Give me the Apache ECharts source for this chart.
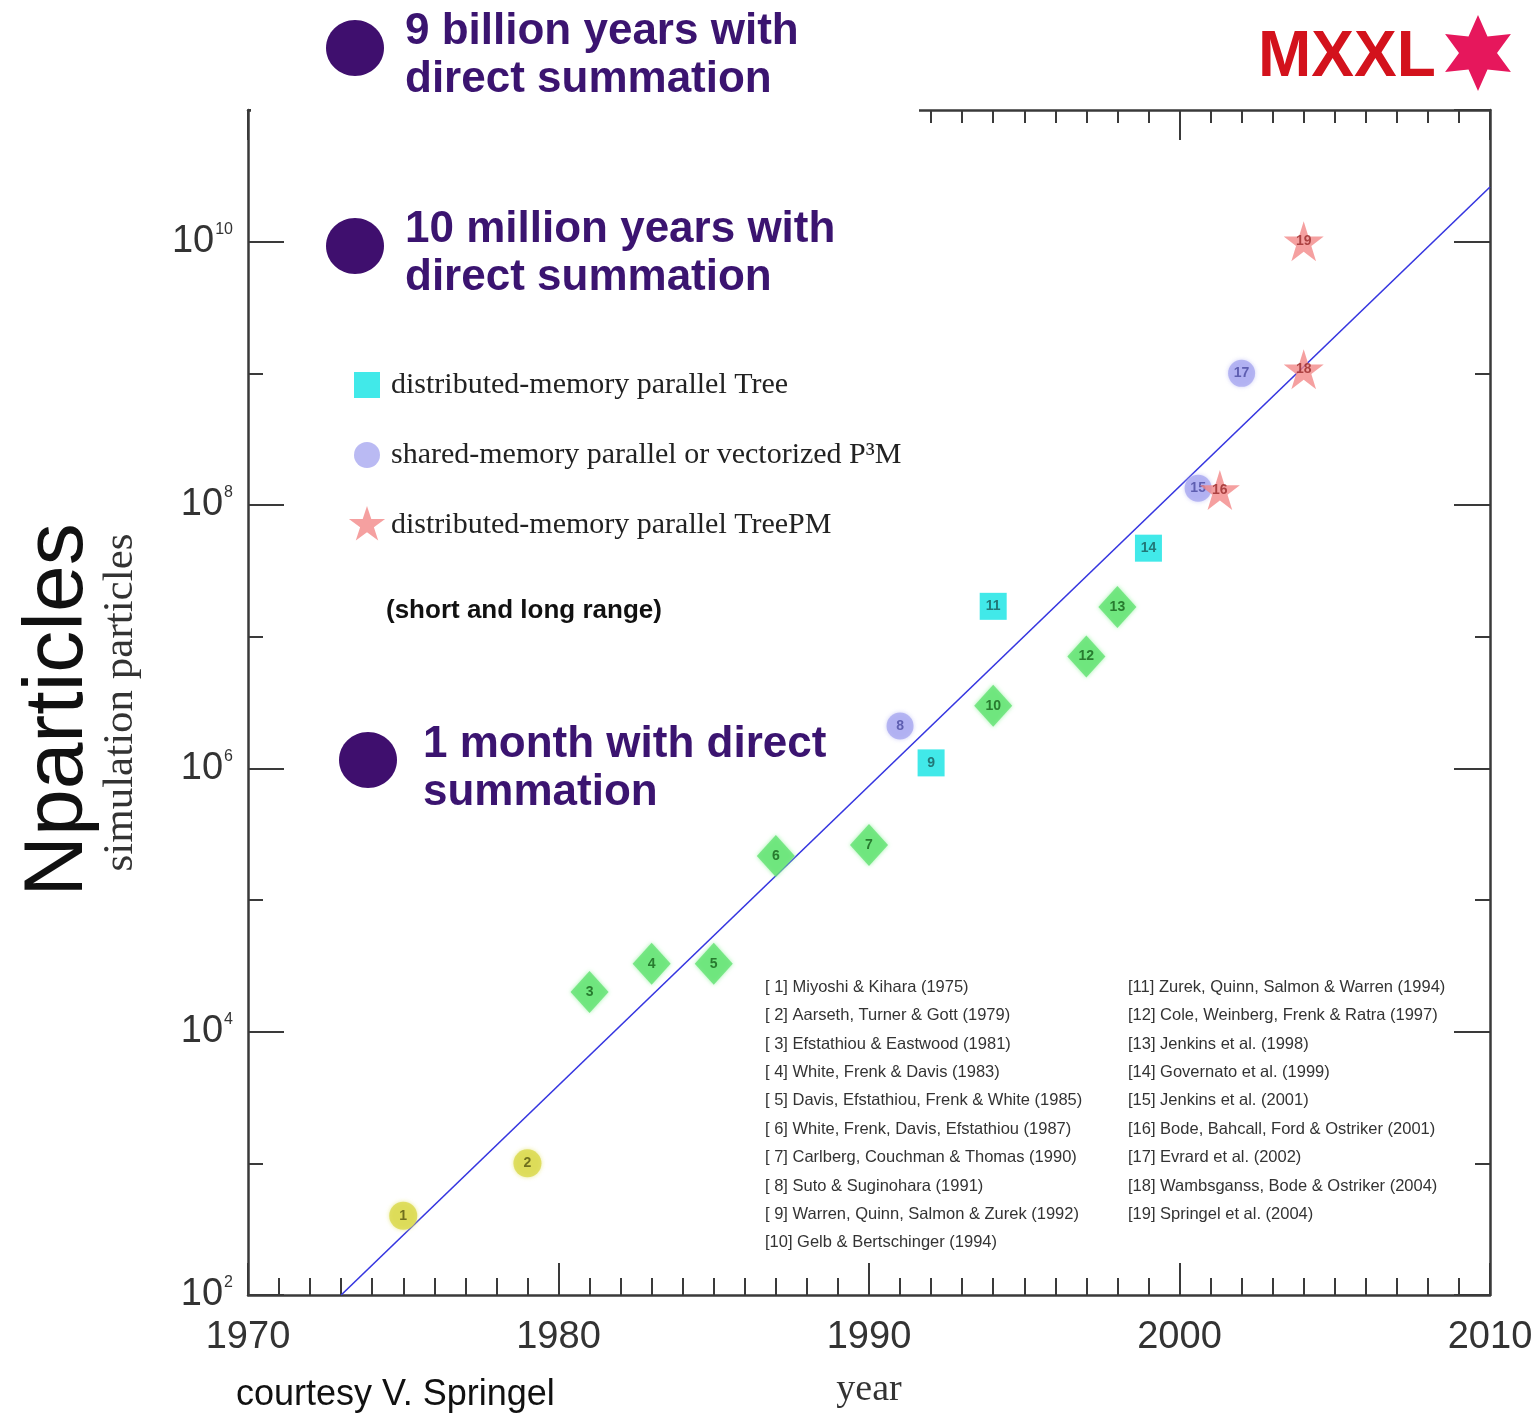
<!DOCTYPE html>
<html>
<head>
<meta charset="utf-8">
<script src="https://cdn.jsdelivr.net/npm/echarts@6/dist/echarts.min.js"></script>
<style>
html,body{margin:0;padding:0;background:#fff;}
#chart{width:1538px;height:1414px;}
</style>
</head>
<body>
<div id="chart"></div>
<script>
// ---- data ----
const earlyYears = [1975, 1979];
const earlyCounts = [400, 1000];
const earlyIds = ['1', '2'];

const treeYears = [1981, 1983, 1985, 1987, 1990, 1994, 1997, 1998];
const treeCounts = [20000, 32768, 32768, 216000, 262144, 2985984, 7077888, 16777216];
const treeIds = ['3', '4', '5', '6', '7', '10', '12', '13'];

const distTreeYears = [1992, 1994, 1999];
const distTreeCounts = [1100000, 17000000, 47000000];
const distTreeIds = ['9', '11', '14'];

const p3mYears = [1991, 2000.6, 2002];
const p3mCounts = [2097152, 134000000, 1000000000];
const p3mIds = ['8', '15', '17'];

const treePMYears = [2001.3, 2004, 2004];
const treePMCounts = [130000000, 1073741824, 10077696000];
const treePMIds = ['16', '18', '19'];

const fitYears = [1973, 2010];
const fitCounts = [100, 26000000000];

const seriesNames = [
  'distributed-memory parallel Tree',
  'shared-memory parallel or vectorized P\u00B3M',
  'distributed-memory parallel TreePM'
];

const refsLeft = [
  '[ 1] Miyoshi & Kihara (1975)',
  '[ 2] Aarseth, Turner & Gott (1979)',
  '[ 3] Efstathiou & Eastwood (1981)',
  '[ 4] White, Frenk & Davis (1983)',
  '[ 5] Davis, Efstathiou, Frenk & White (1985)',
  '[ 6] White, Frenk, Davis, Efstathiou (1987)',
  '[ 7] Carlberg, Couchman & Thomas (1990)',
  '[ 8] Suto & Suginohara (1991)',
  '[ 9] Warren, Quinn, Salmon & Zurek (1992)',
  '[10] Gelb & Bertschinger (1994)'
];
const refsRight = [
  '[11] Zurek, Quinn, Salmon & Warren (1994)',
  '[12] Cole, Weinberg, Frenk & Ratra (1997)',
  '[13] Jenkins et al. (1998)',
  '[14] Governato et al. (1999)',
  '[15] Jenkins et al. (2001)',
  '[16] Bode, Bahcall, Ford & Ostriker (2001)',
  '[17] Evrard et al. (2002)',
  '[18] Wambsganss, Bode & Ostriker (2004)',
  '[19] Springel et al. (2004)'
];

const xMin = 1970, xMax = 2010;
const yMin = 100, yMax = 1e11;

function pts(xs, ys, ids) {
  return xs.map((x, i) => ids ? [x, ys[i], ids[i]] : [x, ys[i]]);
}

const STAR5 = 'path://M50,0 L61.2,34.5 L97.6,34.5 L68.2,55.9 L79.4,90.5 L50,69.1 L20.6,90.5 L31.8,55.9 L2.4,34.5 L38.8,34.5 Z';
// legend icons padded inside a 38x38 box (moveTo points set the box)
const ICON_SQ = 'path://M0,0 M38,38 M6,6 L32,6 L32,32 L6,32 Z';
const ICON_CIRC = 'path://M0,0 M38,38 M32,19 A13,13 0 1 1 6,19 A13,13 0 1 1 32,19 Z';
const ICON_STAR = 'path://M19,0 L23.3,13.1 L37.1,13.1 L25.9,21.2 L30.2,34.4 L19,26.3 L7.8,34.4 L12.1,21.2 L0.9,13.1 L14.7,13.1 Z M0,0 M38,38';

function markerLabel(color) {
  return {
    show: true, position: 'inside',
    formatter: p => p.value[2],
    fontSize: 14, fontWeight: 'bold', color: color,
    fontFamily: 'Liberation Sans'
  };
}

const axisColor = '#3a3a3a';
const baseFont = 'Liberation Sans';
const serif = 'Liberation Serif';

function xAx(pos, interval, len, labels) {
  return {
    type: 'value', min: xMin, max: xMax, interval: interval, position: pos,
    axisLine: { show: labels, lineStyle: { color: axisColor, width: 2.5 } },
    axisTick: { show: true, inside: true, length: len, lineStyle: { color: axisColor, width: 2 } },
    axisLabel: { show: labels && pos === 'bottom', fontSize: 38, color: '#333', margin: 24,
      fontFamily: baseFont, formatter: v => String(v) },
    splitLine: { show: false },
    name: (labels && pos === 'bottom') ? 'year' : '',
    nameLocation: 'middle', nameGap: 76,
    nameTextStyle: { fontFamily: serif, fontSize: 38, color: '#333' }
  };
}
function yAx(pos, interval, len, labels) {
  return {
    type: 'log', logBase: 10, min: yMin, max: yMax, interval: interval, position: pos,
    axisLine: { show: labels, lineStyle: { color: axisColor, width: 2.5 } },
    axisTick: { show: true, inside: true, length: len, lineStyle: { color: axisColor, width: 2 } },
    axisLabel: {
      show: labels && pos === 'left', margin: 15,
      formatter: v => {
        const e = Math.round(Math.log10(v));
        if (e % 2 !== 0 || e > 10) return '';
        return '{b|10}{s|' + e + '}';
      },
      rich: {
        b: { fontSize: 38, color: '#333', fontFamily: baseFont, lineHeight: 40 },
        s: { fontSize: 16, color: '#333', fontFamily: baseFont, verticalAlign: 'top', lineHeight: 17, padding: [0, 0, 0, 1] }
      }
    },
    splitLine: { show: false },
    name: (labels && pos === 'left') ? 'simulation particles' : '',
    nameLocation: 'middle', nameGap: 106, nameRotate: 90,
    nameTextStyle: { fontFamily: serif, fontSize: 43, color: '#333' }
  };
}

// 6-point star for MXXL
const star6 = [];
for (let k = 0; k < 12; k++) {
  const a = -Math.PI / 2 + k * Math.PI / 6;
  const r = k % 2 === 0 ? 38 : 19;
  star6.push([1478 + r * Math.cos(a), 53 + r * Math.sin(a)]);
}

const annoColor = '#3b1470';
const annoFill = '#3f0f6e';
function anno(cx, cy, tx, ty, text) {
  return [
    { type: 'ellipse', shape: { cx: cx, cy: cy, rx: 29, ry: 28 }, style: { fill: annoFill }, z: 100 },
    { type: 'text', x: tx, y: ty, z: 100,
      style: { text: text, fill: annoColor, font: 'bold 44px "Liberation Sans"', lineHeight: 48, verticalAlign: 'top' } }
  ];
}

const chart = echarts.init(document.getElementById('chart'));
chart.setOption({
  animation: false,
  backgroundColor: '#ffffff',
  grid: { left: 248, right: 48, top: 110, bottom: 119, containLabel: false, outerBoundsMode: 'none' },
  xAxis: [
    xAx('bottom', 10, 32, true),
    xAx('bottom', 1, 17, false),
    xAx('top', 10, 30, true),
    xAx('top', 1, 13, false)
  ],
  yAxis: [
    yAx('left', 2, 36, true),
    yAx('left', 1, 15, false),
    yAx('right', 2, 36, true),
    yAx('right', 1, 15, false)
  ],
  legend: {
    show: true, orient: 'vertical', left: 343, top: 361,
    itemWidth: 38, itemHeight: 38, itemGap: 32, selectedMode: false,
    data: [
      { name: seriesNames[0], icon: ICON_SQ },
      { name: seriesNames[1], icon: ICON_CIRC },
      { name: seriesNames[2], icon: ICON_STAR }
    ],
    textStyle: { fontFamily: serif, fontSize: 30, color: '#222', lineHeight: 30 }
  },
  series: [
    {
      type: 'line', name: 'fit', data: pts(fitYears, fitCounts),
      showSymbol: false, symbol: 'none',
      lineStyle: { color: '#3636e0', width: 1.6 }, z: 1, silent: true
    },
    {
      type: 'scatter', name: 'direct', data: pts(earlyYears, earlyCounts, earlyIds),
      symbol: 'circle', symbolSize: 28,
      itemStyle: { color: '#d9d84a', shadowColor: '#e6e67a', shadowBlur: 4 },
      label: markerLabel('#55550f'), z: 3
    },
    {
      type: 'scatter', name: 'tree', data: pts(treeYears, treeCounts, treeIds),
      symbol: 'diamond', symbolSize: [38, 42],
      itemStyle: { color: '#62e272', shadowColor: '#8ef09a', shadowBlur: 4 },
      label: markerLabel('#17601b'), z: 3
    },
    {
      type: 'scatter', name: seriesNames[0], data: pts(distTreeYears, distTreeCounts, distTreeIds),
      symbol: 'rect', symbolSize: 27,
      itemStyle: { color: '#12e4e4' },
      label: markerLabel('#1a5a5a'), z: 3
    },
    {
      type: 'scatter', name: seriesNames[1], data: pts(p3mYears, p3mCounts, p3mIds),
      symbol: 'circle', symbolSize: 27,
      itemStyle: { color: '#a9a9f0', shadowColor: '#c4c4f6', shadowBlur: 4 },
      label: markerLabel('#4a4aa0'), z: 3
    },
    {
      type: 'scatter', name: seriesNames[2], data: pts(treePMYears, treePMCounts, treePMIds),
      symbol: STAR5, symbolSize: 40,
      itemStyle: { color: '#f28888' },
      label: markerLabel('#9a2a2a'), z: 4
    }
  ],
  graphic: [
    // cover the left part of the top frame (hidden in the original)
    { type: 'rect', shape: { x: 251, y: 102, width: 668, height: 46 }, style: { fill: '#ffffff' }, z: 50 },
    ...anno(355, 48, 405, 8, '9 billion years with\ndirect summation'),
    ...anno(355, 246, 405, 206, '10 million years with\ndirect summation'),
    ...anno(368, 760, 423, 721, '1 month with direct\nsummation'),
    { type: 'text', x: 386, y: 611, z: 100,
      style: { text: '(short and long range)', fill: '#111', font: 'bold 26px "Liberation Sans"', verticalAlign: 'middle' } },
    { type: 'text', x: 1258, y: 58, z: 100,
      style: { text: 'MXXL', fill: '#d3121c', font: 'bold 64px "Liberation Sans"', verticalAlign: 'middle' } },
    { type: 'polygon', shape: { points: star6 }, style: { fill: '#e6175c' }, z: 100 },
    { type: 'text', x: 59, y: 710, rotation: Math.PI / 2, z: 100,
      style: { text: 'Nparticles', fill: '#111', font: '84px "Liberation Sans"', align: 'center', verticalAlign: 'middle' } },
    { type: 'text', x: 236, y: 1395, z: 100,
      style: { text: 'courtesy V. Springel', fill: '#111', font: '36px "Liberation Sans"', verticalAlign: 'middle' } },
    { type: 'text', x: 765, y: 973, z: 100,
      style: { text: refsLeft.join('\n'), fill: '#333', font: '16.5px "Liberation Sans"', lineHeight: 28.4, verticalAlign: 'top' } },
    { type: 'text', x: 1128, y: 973, z: 100,
      style: { text: refsRight.join('\n'), fill: '#333', font: '16.5px "Liberation Sans"', lineHeight: 28.4, verticalAlign: 'top' } }
  ]
});
</script>
</body>
</html>
